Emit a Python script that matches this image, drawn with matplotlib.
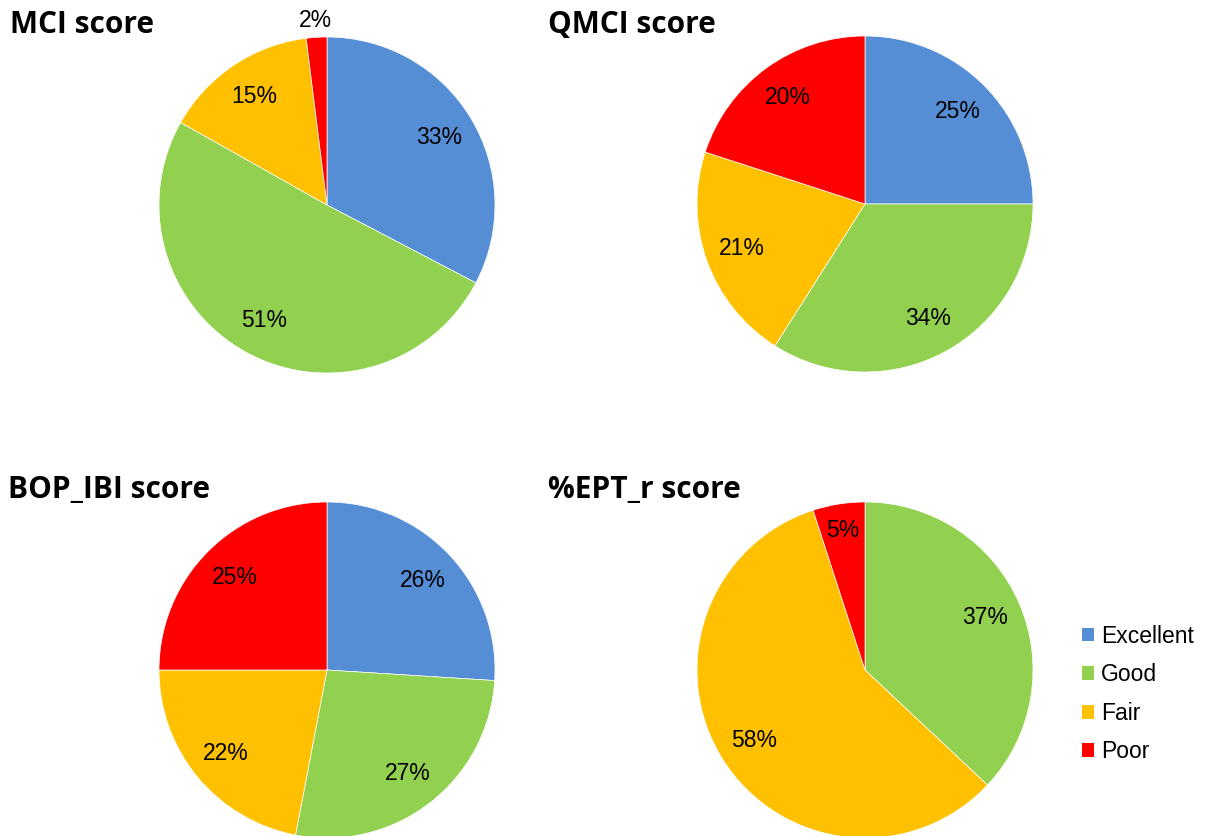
import numpy as np
import matplotlib.pyplot as plt
from matplotlib.patches import Patch

categories = ["Excellent", "Good", "Fair", "Poor"]
colors = ["#558ED5", "#92D050", "#FFC000", "#FF0000"]

titles = ["MCI score", "QMCI score", "BOP_IBI score", "%EPT_r score"]
mci = [33, 51, 15, 2]
qmci = [25, 34, 21, 20]
bop_ibi = [26, 27, 22, 25]
ept_r = [0, 37, 58, 5]
all_values = [mci, qmci, bop_ibi, ept_r]

W, H = 1213, 836
fig = plt.figure(figsize=(W / 100, H / 100), dpi=100)

# centri delle torte in pixel
centri = [(327, 205), (865, 204), (327, 670), (865, 670)]
raggio = 168
pos_titoli = [(10, 25), (548, 25), (8, 490), (548, 490)]

for k in range(4):
    cx, cy = centri[k]
    ax = fig.add_axes([(cx - raggio) / W, 1 - (cy + raggio) / H, 2 * raggio / W, 2 * raggio / H])
    vals = all_values[k]
    ax.pie(vals, colors=colors, startangle=90, counterclock=False,
           radius=1, wedgeprops=dict(edgecolor="white", linewidth=0.5))
    tot = sum(vals)
    ang = 90
    for v in vals:
        if v == 0:
            continue
        mid = ang - 360 * v / tot / 2
        ang -= 360 * v / tot
        d = 0.78
        if v <= 3:
            d = 1.1
        elif v <= 6:
            d = 0.84
        x = d * np.cos(np.radians(mid))
        y = d * np.sin(np.radians(mid))
        ax.text(x, y, f"{v}%", ha="center", va="center", fontsize=16.5,
                family="Liberation Sans", color="black")
    ax.set_xlim(-1, 1)
    ax.set_ylim(-1, 1)
    ax.set_aspect("equal")
    ax.axis("off")
    tx, ty = pos_titoli[k]
    fig.text(tx / W, 1 - ty / H, titles[k], ha="left", va="center",
             fontsize=21.5, fontweight="bold", family="Open Sans")

handles = [Patch(facecolor=c, edgecolor="none") for c in colors]
fig.legend(handles, categories, loc="center left", bbox_to_anchor=(1061 / W, 1 - 694 / H),
           frameon=False, prop=dict(family="Liberation Sans", size=16.5),
           handlelength=0.55, handleheight=0.55, handletextpad=0.3, labelspacing=0.68)

fig.savefig("out.png", dpi=100)
